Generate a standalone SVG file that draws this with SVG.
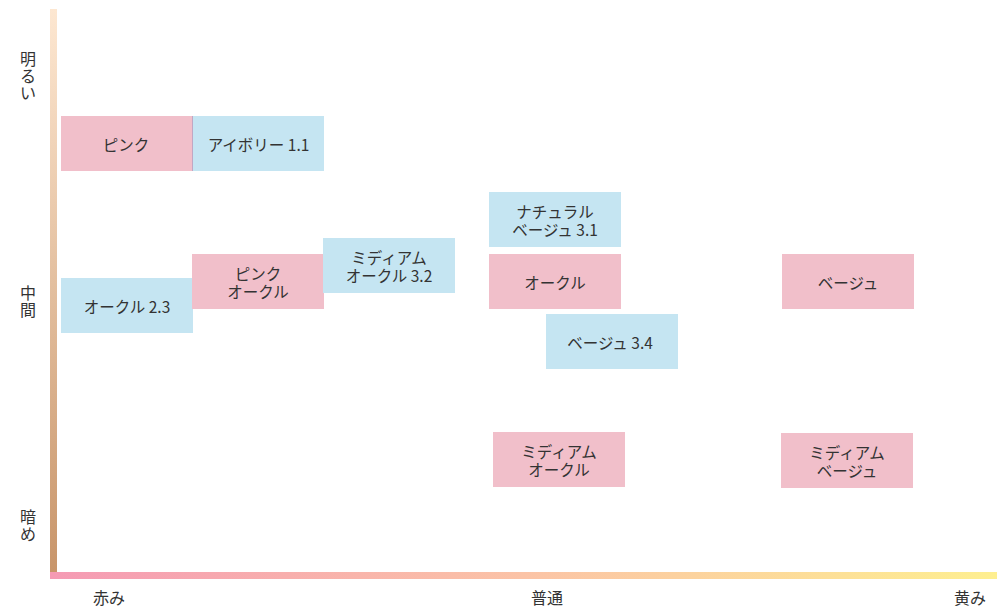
<svg xmlns="http://www.w3.org/2000/svg" width="997" height="607" viewBox="0 0 997 607">
<defs>
<linearGradient id="gv" x1="0" y1="0" x2="0" y2="1">
<stop offset="0" stop-color="#FDE7D1"/>
<stop offset="1" stop-color="#C8956A"/>
</linearGradient>
<linearGradient id="gh" x1="0" y1="0" x2="1" y2="0">
<stop offset="0" stop-color="#F59AB4"/>
<stop offset="0.5" stop-color="#FBC3A6"/>
<stop offset="1" stop-color="#FEEF90"/>
</linearGradient>
<style>
text{font-family:"Noto Sans CJK JP","Noto Sans",sans-serif;font-size:15.5px;fill:#333;text-anchor:middle;dominant-baseline:central}
.p{fill:#F1BFCA}
.b{fill:#C5E5F2}
.ax{font-size:16px}
</style>
</defs>
<rect width="997" height="607" fill="#fff"/>
<g id="axes">
<rect x="50" y="9" width="7" height="564" fill="url(#gv)"/>
<rect x="50" y="572" width="947" height="7" fill="url(#gh)"/>
<text class="ax" x="28" y="58">明</text>
<text class="ax" x="28" y="75">る</text>
<text class="ax" x="28" y="92">い</text>
<text class="ax" x="28" y="292">中</text>
<text class="ax" x="28" y="309">間</text>
<text class="ax" x="28" y="516">暗</text>
<text class="ax" x="28" y="533">め</text>
<text class="ax" x="109" y="597">赤み</text>
<text class="ax" x="547" y="597">普通</text>
<text class="ax" x="970" y="597">黄み</text>
</g>
<g id="connectors"></g>
<g id="n-pink"><rect class="p" x="61" y="116" width="132" height="55"/><text x="126" y="143.5">ピンク</text></g>
<g id="n-ivory"><rect class="b" x="192.5" y="116" width="131.5" height="55"/><line x1="192.5" y1="116" x2="192.5" y2="171" stroke="#C0A8C4" stroke-width="1"/><text x="258.5" y="143.5">アイボリー 1.1</text></g>
<g id="n-ochre23"><rect class="b" x="61" y="278" width="132" height="55"/><text x="127" y="305.5">オークル 2.3</text></g>
<g id="n-pinkochre"><rect class="p" x="192" y="254" width="132" height="55"/><text x="258" y="272.5">ピンク</text><text x="258" y="290.5">オークル</text></g>
<g id="n-medochre32"><rect class="b" x="323" y="238" width="132" height="55"/><text x="389" y="256.5">ミディアム</text><text x="389" y="274.5">オークル 3.2</text></g>
<g id="n-natbeige"><rect class="b" x="489" y="192" width="132" height="55"/><text x="555" y="210.5">ナチュラル</text><text x="555" y="228.5">ベージュ 3.1</text></g>
<g id="n-ochre"><rect class="p" x="489" y="254" width="132" height="55"/><text x="555" y="281.5">オークル</text></g>
<g id="n-beige34"><rect class="b" x="546" y="314" width="132" height="55"/><text x="610" y="341.5">ベージュ 3.4</text></g>
<g id="n-medochre"><rect class="p" x="493" y="432" width="132" height="55"/><text x="559" y="450.5">ミディアム</text><text x="559" y="468.5">オークル</text></g>
<g id="n-beige"><rect class="p" x="782" y="254" width="132" height="55"/><text x="848" y="281.5">ベージュ</text></g>
<g id="n-medbeige"><rect class="p" x="781" y="433" width="132" height="55"/><text x="847" y="451.5">ミディアム</text><text x="847" y="469.5">ベージュ</text></g>
</svg>
